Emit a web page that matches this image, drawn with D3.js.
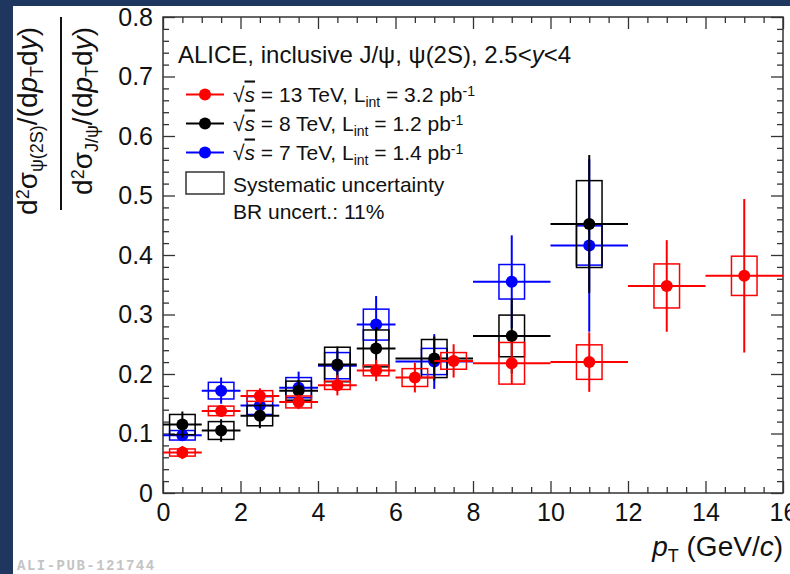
<!DOCTYPE html>
<html>
<head>
<meta charset="utf-8">
<script src="https://cdn.jsdelivr.net/npm/d3@7"></script>
<style>
  html, body { margin: 0; padding: 0; background: #fff; }
  svg { display: block; font-family: "Liberation Sans", Arial, Helvetica, sans-serif; }
</style>
</head>
<body>
<svg id="chart" width="790" height="574"></svg>
<script>
// psi(2S)-to-J/psi cross-section ratio vs pT, forward rapidity

// sqrt(s) = 13 TeV
const binLo13 = [0, 1, 2, 3, 4, 5, 6, 7, 8, 10, 12, 14];
const binHi13 = [1, 2, 3, 4, 5, 6, 7, 8, 10, 12, 14, 16];
const ratio13 = [0.068, 0.138, 0.163, 0.153, 0.181, 0.206, 0.194, 0.222, 0.218, 0.220, 0.348, 0.365];
const stat13  = [0.011, 0.010, 0.013, 0.012, 0.017, 0.018, 0.025, 0.028, 0.035, 0.050, 0.077, 0.129];
const syst13  = [0.006, 0.008, 0.009, 0.010, 0.007, 0.009, 0.015, 0.014, 0.035, 0.029, 0.037, 0.033];

// sqrt(s) = 8 TeV
const binLo8 = [0, 1, 2, 3, 4, 5, 6, 8, 10];
const binHi8 = [1, 2, 3, 4, 5, 6, 8, 10, 12];
const ratio8 = [0.115, 0.105, 0.130, 0.172, 0.216, 0.243, 0.226, 0.264, 0.452];
const stat8  = [0.022, 0.019, 0.021, 0.018, 0.030, 0.036, 0.037, 0.063, 0.116];
const syst8  = [0.017, 0.015, 0.017, 0.016, 0.029, 0.031, 0.032, 0.035, 0.073];

// sqrt(s) = 7 TeV
const binLo7 = [0, 1, 2, 3, 4, 5, 6, 8, 10];
const binHi7 = [1, 2, 3, 4, 5, 6, 8, 10, 12];
const ratio7 = [0.097, 0.172, 0.147, 0.177, 0.214, 0.283, 0.221, 0.355, 0.416];
const stat7  = [0.008, 0.022, 0.015, 0.027, 0.025, 0.048, 0.046, 0.078, 0.145];
const syst7  = [0.008, 0.014, 0.015, 0.017, 0.022, 0.026, 0.022, 0.029, 0.033];

// axis ticks
const xMajor = [0, 2, 4, 6, 8, 10, 12, 14, 16];
const yMajor = [0, 0.1, 0.2, 0.3, 0.4, 0.5, 0.6, 0.7, 0.8];

const svg = d3.select("#chart");
const W = 790, H = 574;
const navy = "#1f365f";

svg.append("rect").attr("x", 0).attr("y", 0).attr("width", W).attr("height", H).attr("fill", "#fff");
svg.append("rect").attr("x", 0).attr("y", 0).attr("width", 13).attr("height", H).attr("fill", navy);
svg.append("rect").attr("x", 0).attr("y", 0).attr("width", W).attr("height", 6).attr("fill", navy);

const x = d3.scaleLinear().domain([0, 16]).range([163, 783]);
const y = d3.scaleLinear().domain([0, 0.8]).range([493, 17]);

const xMinor = d3.range(0, 16.001, 0.5).filter(v => !xMajor.includes(v));
const yMinor = d3.range(0, 0.8001, 0.02).map(v => +v.toFixed(2)).filter(v => !yMajor.some(m => Math.abs(m - v) < 1e-6));

const axisColor = "#333";
function styleAxis(g, fs) {
  g.select(".domain").remove();
  g.selectAll(".tick line").attr("stroke", axisColor).attr("stroke-width", 1.3);
  g.selectAll(".tick text").attr("fill", "#111").attr("font-size", fs)
    .attr("font-family", "'Liberation Sans', Arial, Helvetica, sans-serif");
}

// bottom
svg.append("g").attr("transform", `translate(0,${y(0)})`)
  .call(d3.axisBottom(x).tickValues(xMajor).tickSize(-12).tickPadding(10).tickFormat(d3.format("d")))
  .call(g => styleAxis(g, 25));
svg.append("g").attr("transform", `translate(0,${y(0)})`)
  .call(d3.axisBottom(x).tickValues(xMinor).tickSize(-6).tickFormat(""))
  .call(g => styleAxis(g, 25));
// top
svg.append("g").attr("transform", `translate(0,${y(0.8)})`)
  .call(d3.axisTop(x).tickValues(xMajor).tickSize(-12).tickFormat(""))
  .call(g => styleAxis(g, 25));
svg.append("g").attr("transform", `translate(0,${y(0.8)})`)
  .call(d3.axisTop(x).tickValues(xMinor).tickSize(-6).tickFormat(""))
  .call(g => styleAxis(g, 25));
// left
svg.append("g").attr("transform", `translate(${x(0)},0)`)
  .call(d3.axisLeft(y).tickValues(yMajor).tickSize(-12).tickPadding(10)
    .tickFormat(d => d === 0 ? "0" : d3.format(".1f")(d)))
  .call(g => styleAxis(g, 25));
svg.append("g").attr("transform", `translate(${x(0)},0)`)
  .call(d3.axisLeft(y).tickValues(yMinor).tickSize(-6).tickFormat(""))
  .call(g => styleAxis(g, 25));
// right
svg.append("g").attr("transform", `translate(${x(16)},0)`)
  .call(d3.axisRight(y).tickValues(yMajor).tickSize(-12).tickFormat(""))
  .call(g => styleAxis(g, 25));
svg.append("g").attr("transform", `translate(${x(16)},0)`)
  .call(d3.axisRight(y).tickValues(yMinor).tickSize(-6).tickFormat(""))
  .call(g => styleAxis(g, 25));

// frame
svg.append("rect")
  .attr("x", x(0)).attr("y", y(0.8))
  .attr("width", x(16) - x(0)).attr("height", y(0) - y(0.8))
  .attr("fill", "none").attr("stroke", axisColor).attr("stroke-width", 1.5);

// data series
const boxHalf = 0.33;
function drawSeries(lo, hi, val, stat, syst, color) {
  const g = svg.append("g");
  const idx = d3.range(val.length);
  const mid = i => (lo[i] + hi[i]) / 2;
  g.selectAll("rect").data(idx).join("rect")
    .attr("x", i => x(mid(i) - boxHalf))
    .attr("width", i => x(mid(i) + boxHalf) - x(mid(i) - boxHalf))
    .attr("y", i => y(val[i] + syst[i]))
    .attr("height", i => y(val[i] - syst[i]) - y(val[i] + syst[i]))
    .attr("fill", "none").attr("stroke", color).attr("stroke-width", 1.5);
  g.selectAll("line.h").data(idx).join("line").attr("class", "h")
    .attr("x1", i => x(lo[i])).attr("x2", i => x(hi[i]))
    .attr("y1", i => y(val[i])).attr("y2", i => y(val[i]))
    .attr("stroke", color).attr("stroke-width", 2);
  g.selectAll("line.v").data(idx).join("line").attr("class", "v")
    .attr("x1", i => x(mid(i))).attr("x2", i => x(mid(i)))
    .attr("y1", i => y(val[i] - stat[i])).attr("y2", i => y(val[i] + stat[i]))
    .attr("stroke", color).attr("stroke-width", 2);
  g.selectAll("circle").data(idx).join("circle")
    .attr("cx", i => x(mid(i))).attr("cy", i => y(val[i])).attr("r", 6)
    .attr("fill", color);
}
drawSeries(binLo7, binHi7, ratio7, stat7, syst7, "#0000ff");
drawSeries(binLo8, binHi8, ratio8, stat8, syst8, "#000000");
drawSeries(binLo13, binHi13, ratio13, stat13, syst13, "#ff0000");

// legend
const header = svg.append("text").attr("x", 178).attr("y", 63).attr("font-size", 24).attr("fill", "#111");
header.append("tspan").text("ALICE, inclusive J/\u03C8, \u03C8(2S), 2.5<");
header.append("tspan").attr("font-style", "italic").text("y");
header.append("tspan").text("<4");

const legendRows = [
  { color: "#ff0000", energy: "13", lumi: "3.2", base: 101.5 },
  { color: "#000000", energy: "8",  lumi: "1.2", base: 130.5 },
  { color: "#0000ff", energy: "7",  lumi: "1.4", base: 159.5 }
];
legendRows.forEach(r => {
  svg.append("line").attr("x1", 186).attr("x2", 224).attr("y1", r.base - 7).attr("y2", r.base - 7)
    .attr("stroke", r.color).attr("stroke-width", 2);
  svg.append("circle").attr("cx", 205).attr("cy", r.base - 7).attr("r", 6).attr("fill", r.color);
  const t = svg.append("text").attr("x", 233).attr("y", r.base).attr("font-size", 21).attr("fill", "#111");
  t.append("tspan").text("\u221A");
  t.append("tspan").attr("font-style", "italic").attr("text-decoration", "overline").text("s");
  t.append("tspan").text(` = ${r.energy} TeV, L`);
  t.append("tspan").attr("baseline-shift", "-35%").attr("font-size", 14).text("int");
  t.append("tspan").text(` = ${r.lumi} pb`);
  t.append("tspan").attr("baseline-shift", "45%").attr("font-size", 14).text("-1");
});
svg.append("rect").attr("x", 186).attr("y", 172).attr("width", 38).attr("height", 22)
  .attr("fill", "none").attr("stroke", "#333").attr("stroke-width", 1.5);
svg.append("text").attr("x", 233).attr("y", 191.5).attr("font-size", 21).attr("fill", "#111")
  .text("Systematic uncertainty");
svg.append("text").attr("x", 233).attr("y", 219).attr("font-size", 21).attr("fill", "#111")
  .text("BR uncert.: 11%");

// y-axis title: ratio of double-differential cross sections
function ratioPart(tx, sub) {
  const t = svg.append("text")
    .attr("transform", `translate(${tx},27) rotate(-90)`)
    .attr("text-anchor", "end").attr("font-size", 28).attr("fill", "#111");
  t.append("tspan").text("d");
  t.append("tspan").attr("baseline-shift", "45%").attr("font-size", 18).text("2");
  t.append("tspan").text("\u03C3");
  t.append("tspan").attr("baseline-shift", "-35%").attr("font-size", 18).text(sub);
  t.append("tspan").text("/(d");
  t.append("tspan").attr("font-style", "italic").text("p");
  t.append("tspan").attr("baseline-shift", "-35%").attr("font-size", 18).text("T");
  t.append("tspan").text("d");
  t.append("tspan").attr("font-style", "italic").text("y");
  t.append("tspan").text(")");
}
ratioPart(37, "\u03C8(2S)");
ratioPart(92, "J/\u03C8");
svg.append("line").attr("x1", 61).attr("x2", 61).attr("y1", 17).attr("y2", 210)
  .attr("stroke", "#111").attr("stroke-width", 2);

// x-axis title
const xt = svg.append("text").attr("x", 783).attr("y", 556).attr("text-anchor", "end")
  .attr("font-size", 28).attr("fill", "#111");
xt.append("tspan").attr("font-style", "italic").text("p");
xt.append("tspan").attr("baseline-shift", "-35%").attr("font-size", 18).text("T");
xt.append("tspan").text(" (GeV/");
xt.append("tspan").attr("font-style", "italic").text("c");
xt.append("tspan").text(")");

// figure id
svg.append("text").attr("x", 17).attr("y", 570)
  .attr("font-family", "'Liberation Mono', 'DejaVu Sans Mono', monospace")
  .attr("font-weight", "bold").attr("font-size", 14).attr("letter-spacing", 1.5)
  .attr("fill", "#c4c4c4").text("ALI-PUB-121744");
</script>
</body>
</html>
